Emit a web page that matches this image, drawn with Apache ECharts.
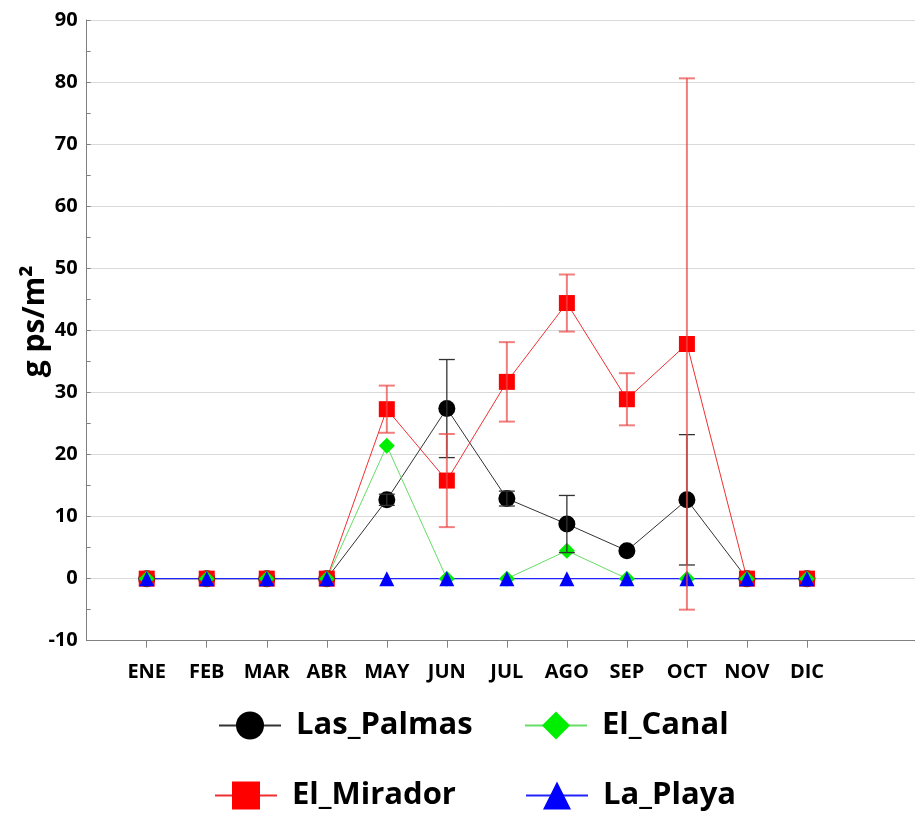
<!DOCTYPE html>
<html>
<head>
<meta charset="utf-8">
<script src="https://cdn.jsdelivr.net/npm/echarts@6/dist/echarts.min.js"></script>
<style>
html,body{margin:0;padding:0;background:#fff;}
#chart{width:915px;height:813px;}
</style>
</head>
<body>
<div id="chart"></div>
<script>
var months = ['ENE','FEB','MAR','ABR','MAY','JUN','JUL','AGO','SEP','OCT','NOV','DIC'];
var yTicks = [-10,0,10,20,30,40,50,60,70,80,90];
var lasPalmas    = [0,0,0,0,12.7,27.4,12.9,8.8,4.5,12.7,0,0];
var lasPalmasErr = [0,0,0,0,0.9,7.9,1.2,4.6,0,10.5,0,0];
var elMirador    = [0,0,0,0,27.3,15.8,31.7,44.4,28.9,37.8,0,0];
var elMiradorErr = [0,0,0,0,3.8,7.5,6.4,4.6,4.2,42.8,0,0];
var elCanal      = [0,0,0,0,21.4,0,0,4.5,0,0,0,0];
var laPlaya      = [0,0,0,0,0,0,0,0,0,0,0,0];

var FONT = 'Open Sans';

function pts(arr){ return arr.map(function(v,i){ return [i+1, v]; }); }
function errPts(arr, err){
  var out = [];
  arr.forEach(function(v,i){ if(err[i] > 0) out.push([i+1, v-err[i], v+err[i]]); });
  return out;
}
function errSeries(name, data, color, width){
  return {
    name: name, type: 'custom', z: 5, silent: true,
    data: data,
    encode: {x: 0, y: [1,2]},
    renderItem: function(params, api){
      var x = api.value(0);
      var lo = api.coord([x, api.value(1)]);
      var hi = api.coord([x, api.value(2)]);
      var hw = 8;
      var st = {stroke: color, lineWidth: width};
      return {type: 'group', children: [
        {type:'line', shape:{x1:lo[0],y1:lo[1],x2:hi[0],y2:hi[1]}, style: st},
        {type:'line', shape:{x1:lo[0]-hw,y1:lo[1],x2:lo[0]+hw,y2:lo[1]}, style: st},
        {type:'line', shape:{x1:hi[0]-hw,y1:hi[1],x2:hi[0]+hw,y2:hi[1]}, style: st}
      ]};
    }
  };
}
function lineSeries(name, data, color, lineColor, symbol, size, lw){
  return {
    name: name, type: 'line', data: pts(data),
    symbol: symbol, symbolSize: size, showAllSymbol: true,
    itemStyle: {color: color, opacity: 1},
    lineStyle: {color: lineColor, width: lw},
    emphasis: {disabled: true}, animation: false
  };
}
function legendAt(name, left, top){
  return {
    data: [name], left: left, top: top, orient: 'horizontal',
    itemWidth: 62, itemHeight: 35, padding: 0,
    selectedMode: false,
    textStyle: {fontFamily: FONT, fontWeight: 'bold', fontSize: 31, color: '#000', padding: [0,0,0,10]}
  };
}

var chart = echarts.init(document.getElementById('chart'), null, {renderer: 'canvas'});
chart.setOption({
  animation: false,
  backgroundColor: '#fff',
  grid: {left: 86.7, top: 20, right: 0, bottom: 172.3, containLabel: false},
  xAxis: {
    type: 'value', min: 0, max: 13.8,
    axisLine: {onZero: false, lineStyle: {color: '#808080', width: 1}},
    axisTick: {show: true, length: 7, customValues: [1,2,3,4,5,6,7,8,9,10,11,12], lineStyle: {color: '#808080'}},
    axisLabel: {
      customValues: [1,2,3,4,5,6,7,8,9,10,11,12],
      formatter: function(v){ return months[Math.round(v)-1] || ''; },
      fontFamily: FONT, fontWeight: 'bold', fontSize: 20, color: '#000', margin: 22
    },
    splitLine: {show: false}
  },
  yAxis: {
    type: 'value', min: -10, max: 90, interval: 10,
    name: 'g ps/m\u00b2', nameLocation: 'middle', nameGap: 36, nameRotate: 90,
    nameMoveOverlap: false,
    nameTextStyle: {fontFamily: FONT, fontWeight: 'bold', fontSize: 30, color: '#000', padding: [0,0,0,18]},
    axisLine: {show: true, onZero: false, lineStyle: {color: '#808080', width: 1}},
    axisTick: {show: true, inside: true, length: 4, lineStyle: {color: '#808080'}},
    minorTick: {show: true, splitNumber: 2, length: 4, lineStyle: {color: '#808080'}},
    axisLabel: {
      customValues: yTicks,
      fontFamily: FONT, fontWeight: 'bold', fontSize: 20, color: '#000', margin: 9
    },
    splitLine: {show: true, lineStyle: {color: '#d9d9d9', width: 1}}
  },
  legend: [
    legendAt('Las_Palmas', 218, 710),
    legendAt('El_Canal', 524, 710),
    legendAt('El_Mirador', 214, 780),
    legendAt('La_Playa', 525, 780)
  ],
  series: [
    lineSeries('Las_Palmas', lasPalmas, '#000000', '#333333', 'circle', 17, 1),
    lineSeries('El_Mirador', elMirador, '#ff0000', '#f03030', 'rect', 16, 1),
    lineSeries('El_Canal', elCanal, '#00ee00', '#66dd66', 'diamond', 16, 1),
    lineSeries('La_Playa', laPlaya, '#0000ff', '#2222ff', 'triangle', 15, 1.3),
    errSeries('Las_Palmas_err', errPts(lasPalmas, lasPalmasErr), '#333333', 1.3),
    errSeries('El_Mirador_err', errPts(elMirador, elMiradorErr), 'rgba(235,70,70,0.7)', 2)
  ]
});
</script>
</body>
</html>
